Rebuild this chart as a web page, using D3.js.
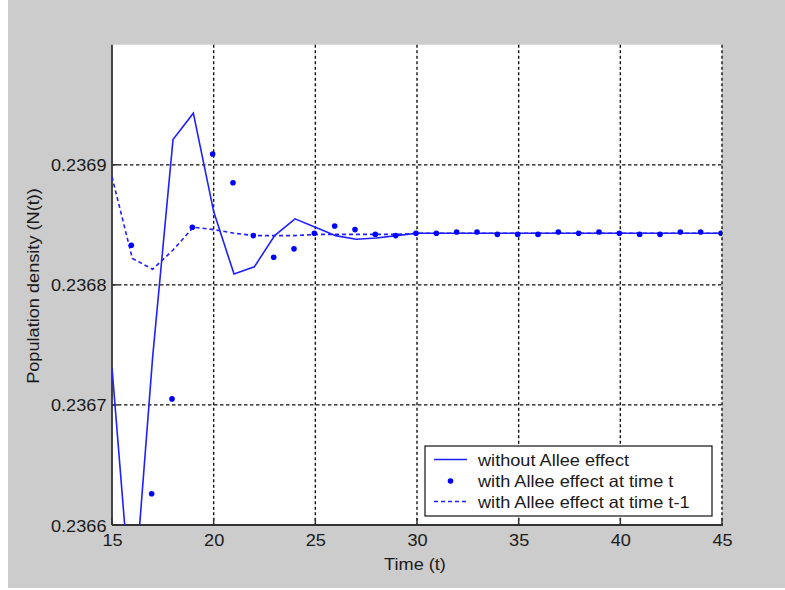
<!DOCTYPE html>
<html>
<head>
<meta charset="utf-8">
<script src="https://cdn.jsdelivr.net/npm/d3@7"></script>
<style>
  html, body { margin: 0; padding: 0; background: #ffffff; }
  svg { display: block; }
  text { font-family: "Liberation Sans", Arial, Helvetica, sans-serif; fill: #1a1a1a; }
</style>
</head>
<body>
<svg id="chart" width="785" height="590"></svg>
<script>
// ---------------- data ----------------
const times = [15,16,17,18,19,20,21,22,23,24,25,26,27,28,29,30,31,32,33,34,35,36,37,38,39,40,41,42,43,44,45];
const withoutAllee = [0.236731,0.236521,0.236740,0.236921,0.236943,0.236861,0.236809,0.236815,0.236841,0.236855,
                      0.236848,0.236841,0.236838,0.236839,0.236841,0.236843,0.236843,0.236843,0.236843,0.236843,
                      0.236843,0.236843,0.236843,0.236843,0.236843,0.236843,0.236843,0.236843,0.236843,0.236843,0.236843];
const alleeTimes = [16,17,18,19,20,21,22,23,24,25,26,27,28,29,30,31,32,33,34,35,36,37,38,39,40,41,42,43,44,45];
const alleeAtT = [0.236833,0.236626,0.236705,0.236848,0.236909,0.236885,0.236841,0.236823,0.236830,0.236843,
                  0.236849,0.236846,0.236842,0.236841,0.236843,0.236843,0.236844,0.236844,0.236842,0.236842,
                  0.236842,0.236844,0.236843,0.236844,0.236843,0.236842,0.236842,0.236844,0.236844,0.236843];
const alleeAtTm1 = [0.236890,0.236822,0.236813,0.236829,0.236848,0.236846,0.236843,0.236841,0.236841,0.236841,
                    0.236842,0.236842,0.236842,0.236842,0.236842,0.236843,0.236843,0.236843,0.236843,0.236843,
                    0.236843,0.236843,0.236843,0.236843,0.236843,0.236843,0.236843,0.236843,0.236843,0.236843,0.236843];
const xTicks = [15,20,25,30,35,40,45];
const yTicks = [0.2366,0.2367,0.2368,0.2369];
const xLabel = "Time (t)";
const yLabel = "Population density (N(t))";
const legendLabels = ["without Allee effect", "with Allee effect at time t", "with Allee effect at time t-1"];

// ---------------- layout ----------------
const svg = d3.select("#chart");
const L = 112, R = 722, T = 44.7, B = 525;
const blue = "#1f1fff";
const stretch = 1.1;
const fs = 16.5;

svg.append("rect").attr("x", 8).attr("y", 0).attr("width", 777).attr("height", 588).attr("fill", "#cccccc");

const x = d3.scaleLinear().domain([15, 45]).range([L, R]);
const y = d3.scaleLinear().domain([0.2366, 0.2370]).range([B, T]);

svg.append("rect").attr("x", L).attr("y", T).attr("width", R - L).attr("height", B - T).attr("fill", "#ffffff");

svg.append("defs").append("clipPath").attr("id", "plotclip")
  .append("rect").attr("x", L).attr("y", T).attr("width", R - L).attr("height", B - T);

// grid
const grid = svg.append("g");
grid.selectAll("line.vg").data(xTicks.filter(d => d > 15)).join("line")
  .attr("x1", d => x(d)).attr("x2", d => x(d)).attr("y1", T).attr("y2", B)
  .attr("stroke", "#111").attr("stroke-width", 1.4).attr("stroke-dasharray", "3,2.5");
grid.selectAll("line.hg").data(yTicks.filter(d => d > 0.2366)).join("line")
  .attr("x1", L).attr("x2", R).attr("y1", d => y(d)).attr("y2", d => y(d))
  .attr("stroke", "#111").attr("stroke-width", 1.3).attr("stroke-dasharray", "3.5,2.5");

// axes
const xAxis = d3.axisBottom(x).tickValues(xTicks).tickSize(0).tickPadding(0).tickFormat(d3.format("d"));
const yAxis = d3.axisLeft(y).tickValues(yTicks).tickSize(0).tickPadding(0).tickFormat(d3.format(".4f"));

const gx = svg.append("g").attr("transform", `translate(0,${B})`).call(xAxis);
gx.select(".domain").remove();
gx.selectAll("text").attr("dy", null).attr("y", 21).attr("font-size", fs).attr("fill", "#1a1a1a");

const gy = svg.append("g").attr("transform", `translate(${L},0)`).call(yAxis);
gy.select(".domain").remove();
gy.selectAll("text").attr("dy", null).attr("x", -5.5).attr("y", 6).attr("font-size", fs).attr("fill", "#1a1a1a");

// axis lines and inward ticks
svg.append("line").attr("x1", L).attr("x2", L).attr("y1", T).attr("y2", B).attr("stroke", "#333").attr("stroke-width", 1.8);
svg.append("line").attr("x1", L).attr("x2", R + 1).attr("y1", B).attr("y2", B).attr("stroke", "#333").attr("stroke-width", 2.2);
svg.selectAll("line.xt").data(xTicks).join("line")
  .attr("x1", d => x(d)).attr("x2", d => x(d)).attr("y1", B).attr("y2", B - 7)
  .attr("stroke", "#333").attr("stroke-width", 1.5);
svg.selectAll("line.yt").data(yTicks).join("line")
  .attr("x1", L).attr("x2", L + 6).attr("y1", d => y(d)).attr("y2", d => y(d))
  .attr("stroke", "#333").attr("stroke-width", 1.5);

// labels
svg.append("text").attr("class", "lab").attr("x", 415).attr("y", 569.5).attr("text-anchor", "middle")
  .attr("font-size", fs).text(xLabel);
svg.append("text").attr("class", "lab").attr("transform", "translate(39,286) rotate(-90)")
  .attr("text-anchor", "middle").attr("font-size", fs).text(yLabel);

// series
const plot = svg.append("g").attr("clip-path", "url(#plotclip)");
const line = d3.line().x(d => x(d[0])).y(d => y(d[1]));
plot.append("path").datum(times.map((t, i) => [t, withoutAllee[i]]))
  .attr("d", line).attr("fill", "none").attr("stroke", blue).attr("stroke-width", 1.6);
plot.append("path").datum(times.map((t, i) => [t, alleeAtTm1[i]]))
  .attr("d", line).attr("fill", "none").attr("stroke", blue).attr("stroke-width", 1.6)
  .attr("stroke-dasharray", "4,3");
plot.selectAll("circle.dot").data(alleeTimes.map((t, i) => [t, alleeAtT[i]])).join("circle")
  .attr("cx", d => x(d[0]) - 1).attr("cy", d => y(d[1])).attr("r", 2.8).attr("fill", "#0000ff");

// legend
const lg = svg.append("g");
lg.append("rect").attr("x", 425).attr("y", 446).attr("width", 287).attr("height", 70)
  .attr("fill", "#ffffff").attr("stroke", "#111").attr("stroke-width", 1.2);
const rowsY = [459.5, 481, 501.5];
lg.append("line").attr("x1", 434).attr("x2", 467).attr("y1", rowsY[0]).attr("y2", rowsY[0])
  .attr("stroke", blue).attr("stroke-width", 1.6);
lg.append("circle").attr("cx", 450.5).attr("cy", rowsY[1]).attr("r", 2.8).attr("fill", "#0000ff");
lg.append("line").attr("x1", 434).attr("x2", 467).attr("y1", rowsY[2]).attr("y2", rowsY[2])
  .attr("stroke", blue).attr("stroke-width", 1.6).attr("stroke-dasharray", "4,3");
lg.selectAll("text.lt").data(legendLabels).join("text")
  .attr("x", 478).attr("y", (d, i) => rowsY[i] + 6).attr("font-size", fs).text(d => d);

// horizontal stretch of all text to match the reference proportions
svg.selectAll("text").each(function () {
  const w = this.getComputedTextLength();
  if (w > 0) {
    d3.select(this).attr("textLength", w * stretch).attr("lengthAdjust", "spacingAndGlyphs");
  }
});
</script>
</body>
</html>
